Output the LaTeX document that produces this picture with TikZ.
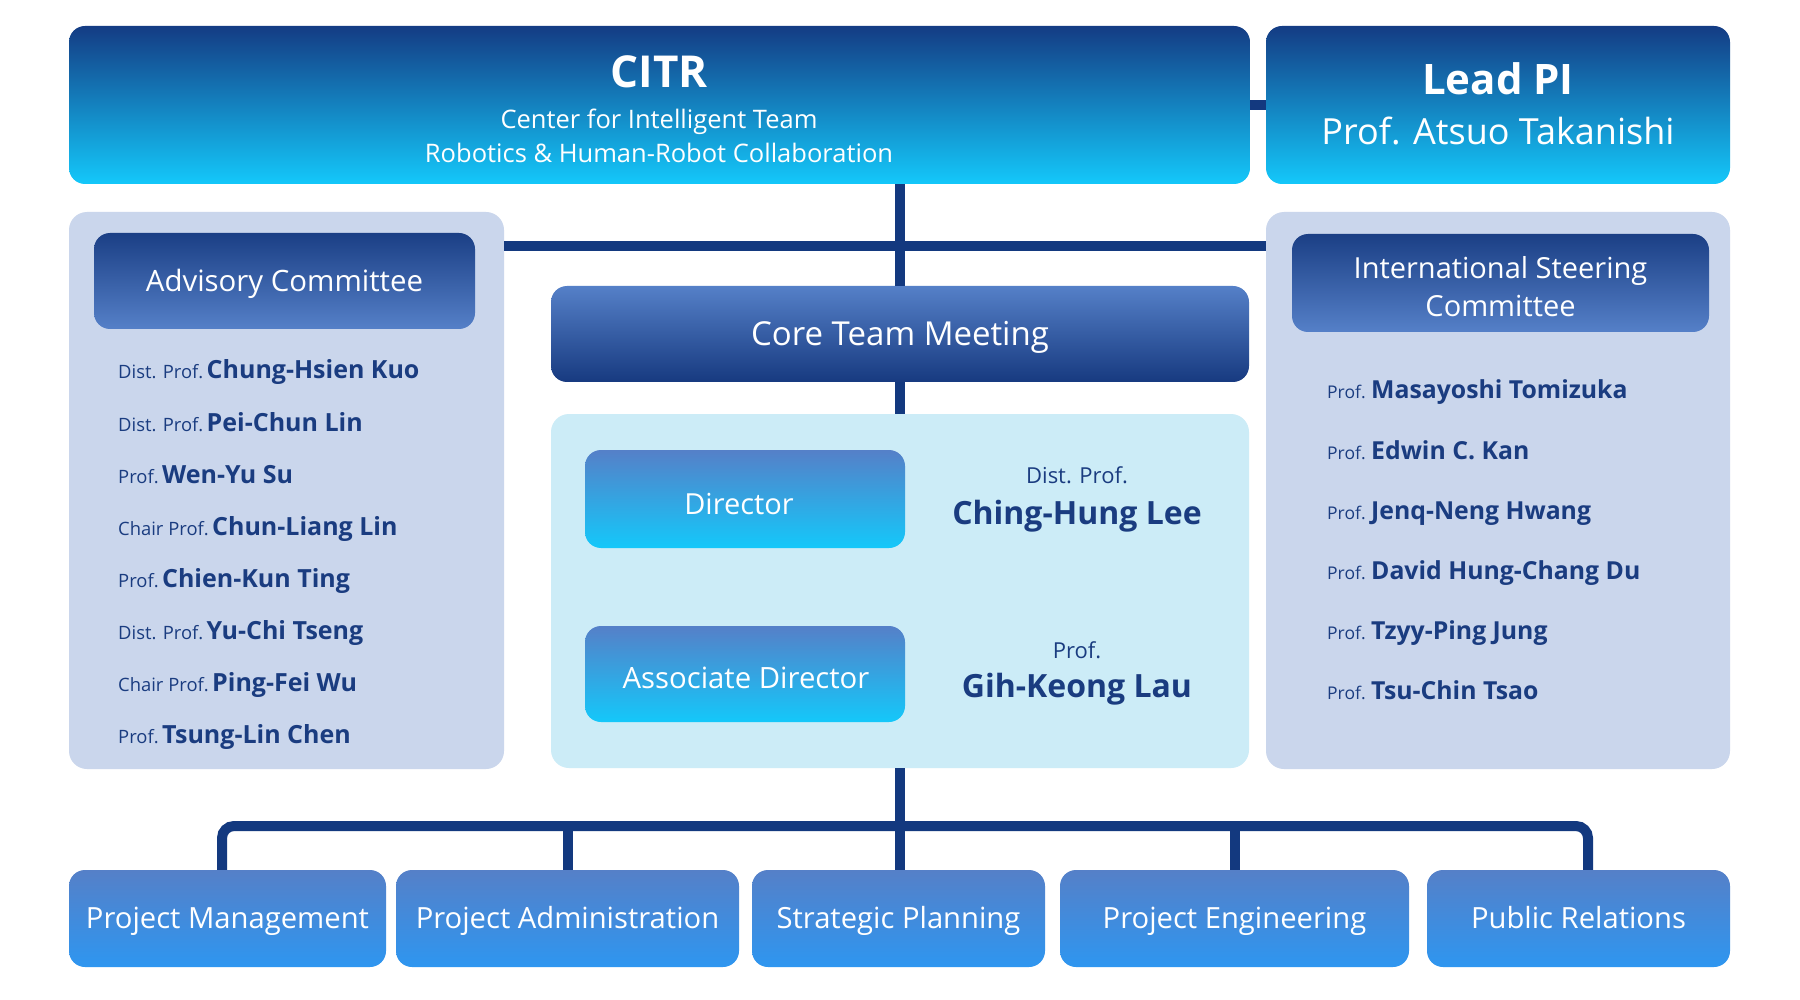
\documentclass[tikz,border=0pt]{standalone}
\usepackage{fontspec}
\setmainfont{Open Sans}
\usetikzlibrary{calc}
\definecolor{navy}{HTML}{13397F}
\definecolor{cyanB}{HTML}{14C8FA}
\definecolor{topA}{HTML}{143C84}
\definecolor{midblue}{HTML}{5580C8}
\definecolor{panelc}{HTML}{CAD6EC}
\definecolor{cpanelc}{HTML}{CCECF7}
\definecolor{botB}{HTML}{2E96F0}
\definecolor{hdrA}{HTML}{1B3F85}
\definecolor{coreB}{HTML}{173A80}
\definecolor{nametext}{HTML}{1A3C80}
\tikzset{
  boxbase/.style={rounded corners=16pt, inner sep=0pt, text=white, align=center},
  topbox/.style={boxbase, top color=topA, bottom color=cyanB},
  hdrbox/.style={boxbase, top color=hdrA, bottom color=midblue},
  corebox/.style={boxbase, top color=midblue, bottom color=coreB},
  rolebox/.style={boxbase, top color=midblue, bottom color=cyanB},
  unitbox/.style={boxbase, top color=midblue, bottom color=botB, minimum height=97pt,
    font=\fontsize{29.2}{35}\selectfont, text height=20.8pt, text depth=0pt},
  panel/.style={rounded corners=18pt, fill=panelc, inner sep=0pt},
  conn/.style={draw=navy, line width=10pt},
  ttl/.style={text=white, inner sep=0pt, align=center},
  nm/.style={text=nametext, anchor=base west, inner sep=0pt},
}
\begin{document}
\begin{tikzpicture}[x=1pt, y=-1pt]
\fill[white] (0,0) rectangle (1800,1000);
\useasboundingbox (0,0) rectangle (1800,1000);

% top row
\node[topbox, minimum width=1181pt, minimum height=158pt] (citr) at (659.5,105) {};
\node[topbox, minimum width=464pt, minimum height=158pt] (lead) at (1498,105) {};
\node[ttl, font=\fontsize{44}{50}\selectfont\bfseries, text height=31.4pt, text depth=0pt] (citrT) at (659,72) {CITR};
\node[ttl, font=\fontsize{25.5}{30}\selectfont, text height=18.2pt, text depth=0pt] (citr1) at (659,119) {Center for Intelligent Team};
\node[ttl, font=\fontsize{25.5}{30}\selectfont, text height=18.2pt, text depth=0pt] (citr2) at (659,153) {Robotics \& Human-Robot Collaboration};
\node[ttl, font=\fontsize{42}{48}\selectfont\bfseries, text height=30pt, text depth=0pt] (leadT) at (1498,80) {Lead PI};
\node[ttl, font=\fontsize{36}{42}\selectfont, text height=25.7pt, text depth=0pt] (leadN) at (1498,132) {Prof. Atsuo Takanishi};

% side panels
\node[panel, minimum width=435pt, minimum height=557pt] (adv) at (286.5,490.5) {};
\node[panel, minimum width=464pt, minimum height=557pt] (isc) at (1498,490.5) {};
\node[hdrbox, minimum width=381pt, minimum height=96pt, font=\fontsize{29.4}{35}\selectfont, text height=21pt, text depth=0pt] (advH) at (284.5,281) {Advisory Committee};
\node[hdrbox, minimum width=417pt, minimum height=98pt] (iscH) at (1500.5,283) {};
\node[ttl, font=\fontsize{29}{38}\selectfont] (iscT) at (1500.5,287) {International Steering\\Committee};

% center
\node[corebox, minimum width=698pt, minimum height=96pt, font=\fontsize{33}{38}\selectfont, text height=23.6pt, text depth=0pt] (core) at (900,334) {Core Team Meeting};
\node[rounded corners=18pt, fill=cpanelc, inner sep=0pt, minimum width=698pt, minimum height=354pt] (cpanel) at (900,591) {};
\node[rolebox, minimum width=320pt, minimum height=98pt] (dir) at (745,499) {};
\node[rolebox, minimum width=320pt, minimum height=96pt] (adir) at (745,674) {};
\node[ttl, font=\fontsize{29}{34}\selectfont, text height=20.7pt, text depth=0pt] (dirT) at (739,504) {Director};
\node[ttl, font=\fontsize{29.3}{34}\selectfont, text height=20.9pt, text depth=0pt] (adirT) at (746,678) {Associate Director};
\node[text=nametext, inner sep=0pt, font=\fontsize{22}{26}\selectfont, text height=15.7pt, text depth=0pt] (dirP) at (1077,476) {Dist. Prof.};
\node[text=nametext, inner sep=0pt, font=\fontsize{32}{38}\selectfont\bfseries, text height=22.8pt, text depth=0pt] (dirN) at (1077,513) {Ching-Hung Lee};
\node[text=nametext, inner sep=0pt, font=\fontsize{22}{26}\selectfont, text height=15.7pt, text depth=0pt] (adirP) at (1077,651) {Prof.};
\node[text=nametext, inner sep=0pt, font=\fontsize{32}{38}\selectfont\bfseries, text height=22.8pt, text depth=0pt] (adirN) at (1077,686) {Gih-Keong Lau};

% advisory names
\foreach \p/\n [count=\i] in {Dist. Prof./Chung-Hsien Kuo, Dist. Prof./Pei-Chun Lin, Prof./Wen-Yu Su, Chair Prof./Chun-Liang Lin, Prof./Chien-Kun Ting, Dist. Prof./Yu-Chi Tseng, Chair Prof./Ping-Fei Wu, Prof./Tsung-Lin Chen}{
  \pgfmathsetmacro{\yy}{379+(\i-1)*52}
  \node[nm] (advN\i) at (118,\yy) {{\fontsize{18.4}{22}\selectfont \p} {\fontsize{25}{30}\selectfont\bfseries \n}};
}
% ISC names
\foreach \n [count=\i] in {Masayoshi Tomizuka, Edwin C. Kan, Jenq-Neng Hwang, David Hung-Chang Du, Tzyy-Ping Jung, Tsu-Chin Tsao}{
  \pgfmathsetmacro{\yy}{399+(\i-1)*60}
  \node[nm] (iscN\i) at (1327,\yy) {{\fontsize{17.5}{22}\selectfont Prof.}\hspace{2pt} {\fontsize{24.8}{30}\selectfont\bfseries \n}};
}

% bottom units
\node[unitbox, minimum width=317pt] (pm) at (227.5,918.5) {Project Management};
\node[unitbox, minimum width=343pt] (pa) at (567.5,918.5) {Project Administration};
\node[unitbox, minimum width=293pt] (sp) at (898.5,918.5) {Strategic Planning};
\node[unitbox, minimum width=349pt] (pe) at (1234.5,918.5) {Project Engineering};
\node[unitbox, minimum width=303pt] (pr) at (1578.5,918.5) {Public Relations};

% connectors
\coordinate (hb) at (900,246);
\coordinate (bar) at (900,826);
\draw[conn] (citr.east) -- (lead.west);
\draw[conn] (core.north |- citr.south) -- (core.north);
\draw[conn] (adv.east |- hb) -- (isc.west |- hb);
\draw[conn] (core.south) -- (cpanel.north);
\draw[conn] (cpanel.south) -- (cpanel.south |- sp.north);
\draw[conn, rounded corners=12pt] ($(pm.north)+(-5.5,0)$) |- (bar) -| ($(pr.north)+(9.5,0)$);
\draw[conn] (pa.north) -- (pa.north |- bar);
\draw[conn] (pe.north) -- (pe.north |- bar);
\end{tikzpicture}
\end{document}
